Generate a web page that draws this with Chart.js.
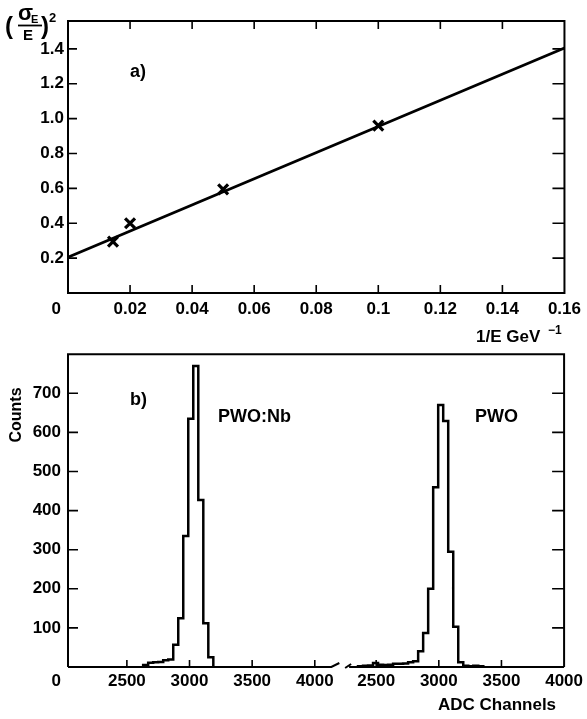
<!DOCTYPE html>
<html><head><meta charset="utf-8">
<script src="https://cdn.jsdelivr.net/npm/chart.js@4.4.1/dist/chart.umd.min.js"></script>
<style>
html,body{margin:0;padding:0;background:#fff;width:587px;height:719px;overflow:hidden}
canvas{position:absolute;left:0}
#c1{top:0}
#c2{top:337px}
</style></head><body>
<canvas id="c2" width="587" height="382"></canvas>
<canvas id="c1" width="587" height="350"></canvas>
<script>
// ---------------- data: panel a) ----------------
const invE   = [0.0145, 0.02, 0.05, 0.1];          // 1/E  (GeV^-1)
const resSq  = [0.295, 0.40, 0.594, 0.96];         // (sigma_E/E)^2
const fitX   = [0, 0.16];
const fitY   = [0.205, 1.405];
const topXTicks  = [0, 0.02, 0.04, 0.06, 0.08, 0.1, 0.12, 0.14, 0.16];
const topXLabels = ['0','0.02','0.04','0.06','0.08','0.1','0.12','0.14','0.16'];
const topYTicks  = [0.2, 0.4, 0.6, 0.8, 1.0, 1.2, 1.4];
const topYLabels = ['0.2','0.4','0.6','0.8','1.0','1.2','1.4'];

// ---------------- data: panel b) ----------------
const nbEdges  = [2630,2670,2710,2750,2790,2830,2870,2910,2950,2990,3030,3070,3110,3150,3190];
const nbCounts = [5,11,12,13,17,19,57,125,335,635,770,427,112,25];
const pwoEdges = [2355,2395,2435,2475,2515,2555,2595,2635,2675,2715,2755,2795,2835,2875,2915,2955,2995,3035,3075,3115,3155,3195,3235,3275,3315,3355];
const pwoCounts= [2,3,4,10,6,5,6,8,8,9,12,15,40,87,200,460,670,629,295,103,12,3,2,3,2];
const adcTicksLeft  = [2500,3000,3500,4000];
const adcTicksRight = [2500,3000,3500,4000];
const adcLabelsLeft  = ['2500','3000','3500','4000'];
const adcLabelsRight = ['2500','3000','3500','4000'];
const countTicks  = [100,200,300,400,500,600,700];
const countLabels = ['100','200','300','400','500','600','700'];
const breakAdc = [4180, 2300];   // end of left segment, start of right segment

// broken axis: one continuous internal axis, two ADC segments
const seg1Origin = 2030, seg2Shift = 40;
const v1 = a => a - seg1Origin;
const v2 = a => a - seg2Shift;

const FONT = '"Liberation Sans", Arial, Helvetica, sans-serif';
Chart.defaults.font.family = FONT;
Chart.defaults.font.size = 17;
Chart.defaults.font.weight = 'bold';
Chart.defaults.color = '#000';

function histPoints(edges, counts, map) {
  const pts = [{x: map(edges[0]), y: 0}];
  counts.forEach((c, i) => pts.push({x: map(edges[i]), y: c}));
  pts.push({x: map(edges[edges.length - 1]), y: 0});
  return pts;
}

function txt(ctx, s, x, y, size, align) {
  ctx.font = 'bold ' + size + 'px ' + FONT;
  ctx.textAlign = align || 'left';
  ctx.fillText(s, x, y);
}

// ---------------- chart a) ----------------
const frameA = {
  id: 'frameA',
  afterDatasetsDraw(chart) {
    const {ctx, chartArea: a, scales: {x, y}} = chart;
    ctx.save();
    ctx.strokeStyle = '#000';
    ctx.lineWidth = 2;
    ctx.strokeRect(a.left, a.top, a.right - a.left, a.bottom - a.top);
    ctx.lineWidth = 1.6;
    ctx.beginPath();
    topXTicks.slice(1, -1).forEach(v => {
      const px = x.getPixelForValue(v);
      ctx.moveTo(px, a.bottom); ctx.lineTo(px, a.bottom - 8);
      ctx.moveTo(px, a.top);    ctx.lineTo(px, a.top + 8);
    });
    topYTicks.forEach(v => {
      const py = y.getPixelForValue(v);
      ctx.moveTo(a.left, py);  ctx.lineTo(a.left + 9, py);
      ctx.moveTo(a.right, py); ctx.lineTo(a.right - 12, py);
    });
    ctx.stroke();
    ctx.restore();
  },
  afterDraw(chart) {
    const ctx = chart.ctx;
    ctx.save();
    ctx.fillStyle = '#000';
    ctx.textBaseline = 'alphabetic';
    txt(ctx, 'a)', 130, 77, 18);
    // y title: (sigma_E / E)^2
    txt(ctx, '(', 5, 34, 24);
    txt(ctx, '\u03C3', 18, 20, 22);
    txt(ctx, 'E', 31, 23, 11);
    ctx.strokeStyle = '#000'; ctx.lineWidth = 1.8;
    ctx.beginPath(); ctx.moveTo(18, 25.5); ctx.lineTo(42, 25.5); ctx.stroke();
    txt(ctx, 'E', 23, 40, 15);
    txt(ctx, ')', 41, 34, 24);
    txt(ctx, '2', 49, 22, 13);
    // x title
    txt(ctx, '1/E GeV', 476, 342, 17);
    txt(ctx, '\u22121', 548, 334, 12);
    ctx.restore();
  }
};

new Chart(document.getElementById('c1'), {
  type: 'scatter',
  data: {
    datasets: [
      { label: 'fit', data: fitX.map((x, i) => ({x, y: fitY[i]})), showLine: true,
        borderColor: '#000', borderWidth: 2.8, pointRadius: 0, fill: false },
      { label: 'measured', data: invE.map((x, i) => ({x, y: resSq[i]})), showLine: false,
        pointStyle: 'crossRot', pointRadius: 7, borderColor: '#000', backgroundColor: '#000',
        pointBorderWidth: 3.2, borderWidth: 3.2 }
    ]
  },
  options: {
    responsive: false, animation: false, devicePixelRatio: 1, events: [],
    layout: { padding: { top: 21, right: 19, left: 0, bottom: 0 } },
    plugins: { legend: { display: false }, tooltip: { enabled: false } },
    scales: {
      x: {
        type: 'linear', position: 'bottom', min: 0, max: 0.16,
        afterBuildTicks: s => { s.ticks = topXTicks.map(v => ({value: v})); },
        afterFit: s => { s.height = 57; },
        grid: { display: false, drawTicks: false }, border: { display: false },
        ticks: { autoSkip: false, maxRotation: 0, padding: 6,
          callback: (v, i) => i === 0 ? topXLabels[0] + '     ' : topXLabels[i] }
      },
      y: {
        type: 'linear', min: 0, max: 1.56,
        afterBuildTicks: s => { s.ticks = topYTicks.map(v => ({value: v})); },
        afterFit: s => { s.width = 68; },
        grid: { display: false, drawTicks: false }, border: { display: false },
        ticks: { autoSkip: false, padding: 4, callback: (v, i) => topYLabels[i] }
      }
    }
  },
  plugins: [frameA]
});

// ---------------- chart b) ----------------
const xTicksB  = [0].concat(adcTicksLeft.map(v1), adcTicksRight.map(v2));
const xLabelsB = ['0     '].concat(adcLabelsLeft, adcLabelsRight);

const frameB = {
  id: 'frameB',
  afterDatasetsDraw(chart) {
    const {ctx, chartArea: a, scales: {x, y}} = chart;
    ctx.save();
    ctx.strokeStyle = '#000';
    ctx.lineWidth = 2;
    ctx.beginPath();
    ctx.moveTo(a.left, a.bottom); ctx.lineTo(a.left, a.top);
    ctx.lineTo(a.right, a.top); ctx.lineTo(a.right, a.bottom);
    ctx.stroke();
    const b1 = x.getPixelForValue(v1(breakAdc[0]));
    const b2 = x.getPixelForValue(v2(breakAdc[1]));
    ctx.beginPath();
    ctx.moveTo(a.left, a.bottom); ctx.lineTo(b1 - 6, a.bottom); ctx.lineTo(b1 + 2, a.bottom - 4);
    ctx.moveTo(b2 - 6, a.bottom + 1); ctx.lineTo(b2, a.bottom - 3);
    ctx.moveTo(b2 - 2, a.bottom); ctx.lineTo(a.right, a.bottom);
    ctx.stroke();
    ctx.lineWidth = 1.6;
    ctx.beginPath();
    xTicksB.slice(1, -1).forEach(v => {
      const px = x.getPixelForValue(v);
      ctx.moveTo(px, a.bottom); ctx.lineTo(px, a.bottom - 7);
    });
    countTicks.forEach(v => {
      const py = y.getPixelForValue(v);
      ctx.moveTo(a.left, py);  ctx.lineTo(a.left + 10, py);
      ctx.moveTo(a.right, py); ctx.lineTo(a.right - 12, py);
    });
    ctx.stroke();
    ctx.restore();
  },
  afterDraw(chart) {
    const ctx = chart.ctx;
    ctx.save();
    ctx.fillStyle = '#000';
    ctx.textBaseline = 'middle';
    txt(ctx, 'b)', 130, 63, 18);
    txt(ctx, 'PWO:Nb', 218, 80, 18);
    txt(ctx, 'PWO', 475, 80, 18);
    txt(ctx, 'ADC Channels', 438, 368, 17);
    ctx.translate(17, 78);
    ctx.rotate(-Math.PI / 2);
    txt(ctx, 'Counts', 0, 0, 16, 'center');
    ctx.restore();
  }
};

new Chart(document.getElementById('c2'), {
  type: 'scatter',
  data: {
    datasets: [
      { label: 'PWO:Nb', data: histPoints(nbEdges, nbCounts, v1), showLine: true, stepped: true,
        borderColor: '#000', borderWidth: 2.5, pointRadius: 0, fill: false },
      { label: 'PWO', data: histPoints(pwoEdges, pwoCounts, v2), showLine: true, stepped: true,
        borderColor: '#000', borderWidth: 2.5, pointRadius: 0, fill: false }
    ]
  },
  options: {
    responsive: false, animation: false, devicePixelRatio: 1, events: [],
    layout: { padding: { top: 17, right: 18, left: 0, bottom: 0 } },
    plugins: { legend: { display: false }, tooltip: { enabled: false } },
    scales: {
      x: {
        type: 'linear', position: 'bottom', min: 0, max: v2(4000),
        afterBuildTicks: s => { s.ticks = xTicksB.map(v => ({value: v})); },
        afterFit: s => { s.height = 52; },
        grid: { display: false, drawTicks: false }, border: { display: false },
        ticks: { autoSkip: false, maxRotation: 0, padding: 4, callback: (v, i) => xLabelsB[i] }
      },
      y: {
        type: 'linear', min: 0, max: 800,
        afterBuildTicks: s => { s.ticks = countTicks.map(v => ({value: v})); },
        afterFit: s => { s.width = 68; },
        grid: { display: false, drawTicks: false }, border: { display: false },
        ticks: { autoSkip: false, padding: 7, callback: (v, i) => countLabels[i] }
      }
    }
  },
  plugins: [frameB]
});
</script>
</body></html>
